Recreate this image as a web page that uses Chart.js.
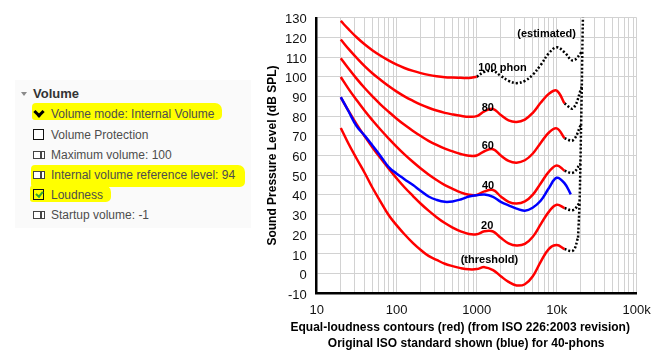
<!DOCTYPE html>
<html>
<head>
<meta charset="utf-8">
<script src="https://cdn.jsdelivr.net/npm/chart.js@4.4.0/dist/chart.umd.min.js"></script>
<style>
html, body { margin: 0; padding: 0; background: #fff; }
body { width: 663px; height: 359px; position: relative; overflow: hidden; font-family: "Liberation Sans", Arial, sans-serif; }
#panel { position: absolute; left: 15px; top: 80px; width: 236px; height: 148px; background: #fafafa; }
.hl { position: absolute; background: #ffff00; border-radius: 4px 7px 5px 3px; }
.row { position: absolute; left: 51px; font-size: 12px; line-height: 14px; color: #4d4d4d; white-space: nowrap; }
.head { position: absolute; left: 33px; top: 86px; font-size: 13px; line-height: 15px; font-weight: bold; color: #333; }
.tri { position: absolute; left: 21px; top: 92px; width: 0; height: 0; border-left: 3.5px solid transparent; border-right: 3.5px solid transparent; border-top: 4px solid #8a8a8a; }
.chev { position: absolute; left: 35px; top: 108px; width: 5px; height: 5px; border-right: 3px solid #000; border-bottom: 3px solid #000; transform: rotate(45deg); }
.box { position: absolute; left: 33px; width: 9px; height: 9px; border: 1.5px solid #111; background: #fff; }
.box.on { background: transparent; }
.tick { position: absolute; left: 2.5px; top: 0px; width: 2.5px; height: 5px; border-right: 2px solid #2fa82f; border-bottom: 2px solid #2fa82f; transform: rotate(40deg); }
.spin { position: absolute; left: 33px; width: 10px; height: 6px; border: 1px solid #444; background: #fff; }
.spin::after { content: ""; position: absolute; left: 6px; top: 0px; width: 1.5px; height: 6px; background: #444; }
#chartBox { position: absolute; left: 255px; top: 0; width: 408px; height: 359px; }
</style>
</head>
<body>
<div id="panel"></div>
<div class="hl" style="left:32px;top:103px;width:190px;height:17px;"></div>
<div class="hl" style="left:31px;top:165px;width:214px;height:22px;"></div>
<div class="hl" style="left:30px;top:185px;width:81px;height:17px;"></div>

<div class="tri"></div>
<div class="head">Volume</div>

<div class="chev"></div>
<div class="row" style="top:107px;">Volume mode: Internal Volume</div>

<div class="box" style="top:129px;"></div>
<div class="row" style="top:128px;">Volume Protection</div>

<div class="spin" style="top:151px;"></div>
<div class="row" style="top:148px;">Maximum volume: 100</div>

<div class="spin" style="top:171px;"></div>
<div class="row" style="top:168px;">Internal volume reference level: 94</div>

<div class="box on" style="top:189px;"><div class="tick"></div></div>
<div class="row" style="top:188px;">Loudness</div>

<div class="spin" style="top:211px;"></div>
<div class="row" style="top:208px;">Startup volume: -1</div>

<div id="chartBox"><canvas id="loudChart"></canvas></div>

<script>
// frequencies (Hz) of the contour points
const freqs = [20, 25, 31.5, 40, 50, 63, 80, 100, 125, 160, 200, 250, 315, 400, 500, 630, 800,
    1000, 1250, 1600, 2000, 2500, 3150, 4000, 5000, 6300, 8000, 10000, 12500];

// red contours, dB SPL
const threshold = [74, 66, 58.5, 51, 43.5, 36.5, 29.5, 24.5, 20, 15.5, 12, 9, 7, 5, 3.8, 2.8, 2.2,
    2.3, 3.3, 1.8, -1.3, -4.2, -6, -5.4, -1.5, 6, 12.6, 14.5, 12.5];
const phon20 = [89.6, 82.7, 76.0, 69.6, 64.0, 58.6, 53.2, 48.4, 43.9, 39.4, 35.5, 32.0, 28.7, 25.7, 23.4, 21.5, 20.1,
    20.0, 21.5, 21.4, 18.2, 15.4, 14.3, 15.1, 18.6, 25.0, 31.5, 35.0, 33.3];
const phon40 = [99.9, 93.9, 88.2, 82.6, 77.8, 73.1, 68.5, 64.4, 60.6, 56.7, 53.4, 50.4, 47.6, 45.0, 43.1, 41.3, 40.1,
    40.0, 41.8, 42.5, 39.2, 36.5, 35.6, 36.7, 40.0, 45.8, 51.8, 55.0, 52.3];
const phon60 = [109.5, 104.2, 99.1, 94.2, 90.0, 85.9, 82.1, 78.7, 75.6, 72.5, 69.9, 67.5, 65.4, 63.5, 62.1, 60.8, 59.9,
    60.0, 62.2, 63.2, 60.0, 57.3, 56.4, 57.6, 60.9, 66.4, 71.7, 73.8, 68.8];
const phon80 = [119.0, 114.2, 109.7, 105.3, 101.7, 98.4, 95.2, 92.5, 90.1, 87.8, 85.9, 84.3, 82.9, 81.7, 80.9, 80.2, 79.7,
    80.0, 82.5, 83.7, 80.6, 77.9, 77.1, 78.3, 81.6, 86.8, 91.4, 93.0, 86.5];
const phon100 = [128.4, 124.2, 120.1, 116.4, 113.4, 110.7, 108.2, 106.2, 104.5, 103.0, 101.9, 101.0, 100.3, 99.8, 99.6, 99.5, 99.4,
    100.0];

// blue: original ISO 40-phon curve
const blueFreqs = [20, 25, 31.5, 40, 50, 63, 80, 100, 125, 160, 200, 250, 315, 400, 500, 630, 800,
    1000, 1250, 1600, 2000, 2500, 3150, 4000, 5000, 6300, 8000, 10000, 12500, 15000];
const iso40old = [89.7, 82.5, 75, 70, 65, 59.7, 54, 50.8, 48, 45, 42, 39.2, 37.5, 36.5, 36.7, 37.7, 39.2,
    39.8, 40.2, 39, 36.5, 34.7, 33, 32, 33.5, 37, 43.5, 48.7, 46, 40.3];

// black dotted: estimated parts
const est100Freqs = [1000, 1250, 1600, 2000, 2500, 3150, 4000, 5000, 6300, 8000, 10000, 12500, 16000, 20900];
const est100 = [100, 102.5, 103, 100.5, 98, 96.8, 98, 101, 106, 112, 115, 112.5, 108.3, 113];
const hookFreqs = [12500, 16000];
const hookThreshold = [12.5, 11.7];
const hook20 = [33.3, 32.3];
const hook40 = [52.3, 51.3];
const hook60 = [68.8, 67.8];
const hook80 = [86.5, 84];
const edgeFreqs = [18500, 19300, 19800, 20200, 20600, 20900, 21500];
const edgeLevels = [18.3, 36, 56, 76, 95, 113, 140];

const xTickValues = [10, 100, 1000, 10000, 100000];
const xTickLabels = ['10', '100', '1000', '10k', '100k'];
const xTitleLines = ['Equal-loudness contours (red) (from ISO 226:2003 revision)',
                     'Original ISO standard shown (blue) for 40-phons'];

const curveLabels = [
    { text: '(estimated)', f: 3218, db: 122 },
    { text: '100 phon', f: 1048, db: 104.6 },
    { text: '80', f: 1155, db: 84 },
    { text: '60', f: 1155, db: 65 },
    { text: '40', f: 1164, db: 44.5 },
    { text: '20', f: 1132, db: 24.2 },
    { text: '(threshold)', f: 631, db: 6.7 }
];

function toPoints(xs, ys) {
    return ys.map((y, i) => ({ x: xs[i], y: y }));
}

// hook joins the estimated edge line at the given point
function hook(values, joinIndex) {
    let pts = toPoints(hookFreqs, values);
    pts.push({ x: edgeFreqs[joinIndex], y: edgeLevels[joinIndex] });
    return pts;
}

function redLine(data) {
    return { data: data, borderColor: '#ff0000', borderWidth: 2.5, pointRadius: 0, tension: 0.4, fill: false };
}

function dotLine(data) {
    return { data: data, borderColor: '#000000', borderWidth: 2.5, borderDash: [2, 2], pointRadius: 0, tension: 0.4, fill: false };
}

const labelPlugin = {
    id: 'curveLabels',
    afterDatasetsDraw(chart) {
        const ctx = chart.ctx;
        const xs = chart.scales.x;
        const ys = chart.scales.y;
        ctx.save();
        ctx.font = 'bold 11px "Liberation Sans", Arial, sans-serif';
        ctx.fillStyle = '#000';
        ctx.textAlign = 'left';
        ctx.textBaseline = 'middle';
        curveLabels.forEach(l => {
            ctx.fillText(l.text, xs.getPixelForValue(l.f), ys.getPixelForValue(l.db));
        });
        // x axis caption, two lines, sitting a little left of the plot centre
        const area = chart.chartArea;
        ctx.font = 'bold 12px "Liberation Sans", Arial, sans-serif';
        ctx.textAlign = 'center';
        ctx.fillText(xTitleLines[0], area.left + 143.5, area.bottom + 34.5);
        ctx.fillText(xTitleLines[1], area.left + 149.5, area.bottom + 50);
        ctx.restore();
    }
};

new Chart(document.getElementById('loudChart'), {
    type: 'line',
    data: {
        datasets: [
            { data: toPoints(blueFreqs, iso40old), borderColor: '#0000ff', borderWidth: 2.5, pointRadius: 0, tension: 0.4, fill: false },
            redLine(toPoints(freqs, threshold)),
            redLine(toPoints(freqs, phon20)),
            redLine(toPoints(freqs, phon40)),
            redLine(toPoints(freqs, phon60)),
            redLine(toPoints(freqs, phon80)),
            redLine(toPoints(freqs, phon100)),
            dotLine(toPoints(est100Freqs, est100)),
            dotLine(hook(hookThreshold, 0)),
            dotLine(hook(hook20, 1)),
            dotLine(hook(hook40, 2)),
            dotLine(hook(hook60, 3)),
            dotLine(hook(hook80, 4)),
            dotLine(toPoints(edgeFreqs, edgeLevels))
        ]
    },
    options: {
        responsive: true,
        maintainAspectRatio: false,
        animation: false,
        layout: { padding: { top: 13.3, right: 26.3, left: 0, bottom: 0 } },
        plugins: { legend: { display: false }, tooltip: { enabled: false } },
        scales: {
            x: {
                type: 'logarithmic',
                min: 10,
                max: 100000,
                afterBuildTicks: (scale) => {
                    let t = [];
                    for (let d = 10; d < 100000; d *= 10) {
                        for (let k = 1; k < 10; k++) t.push({ value: d * k });
                    }
                    t.push({ value: 100000 });
                    scale.ticks = t;
                },
                afterFit: (scale) => { scale.height = 65.7; },
                ticks: {
                    autoSkip: false,
                    maxRotation: 0,
                    padding: 9,
                    color: '#111',
                    font: { family: '"Liberation Sans", Arial, sans-serif', size: 13 },
                    callback: (v) => {
                        let i = xTickValues.indexOf(v);
                        return i >= 0 ? xTickLabels[i] : '';
                    }
                },
                grid: { color: '#d2d2d2', lineWidth: 1, drawTicks: false },
                border: { display: true, color: '#000', width: 2.5 },
                title: { display: false }
            },
            y: {
                min: -10,
                max: 130,
                afterFit: (scale) => { scale.width = 61.7; },
                ticks: {
                    stepSize: 10,
                    padding: 10,
                    labelOffset: 2,
                    color: '#111',
                    font: { family: '"Liberation Sans", Arial, sans-serif', size: 13 }
                },
                grid: { color: '#d2d2d2', lineWidth: 1, drawTicks: false },
                border: { display: true, color: '#000', width: 2.5 },
                title: {
                    display: true,
                    text: 'Sound Pressure Level (dB SPL)',
                    color: '#000',
                    font: { family: '"Liberation Sans", Arial, sans-serif', size: 12, weight: 'bold' },
                    padding: { top: 10.8, bottom: 0 }
                }
            }
        }
    },
    plugins: [labelPlugin]
});
</script>
</body>
</html>
